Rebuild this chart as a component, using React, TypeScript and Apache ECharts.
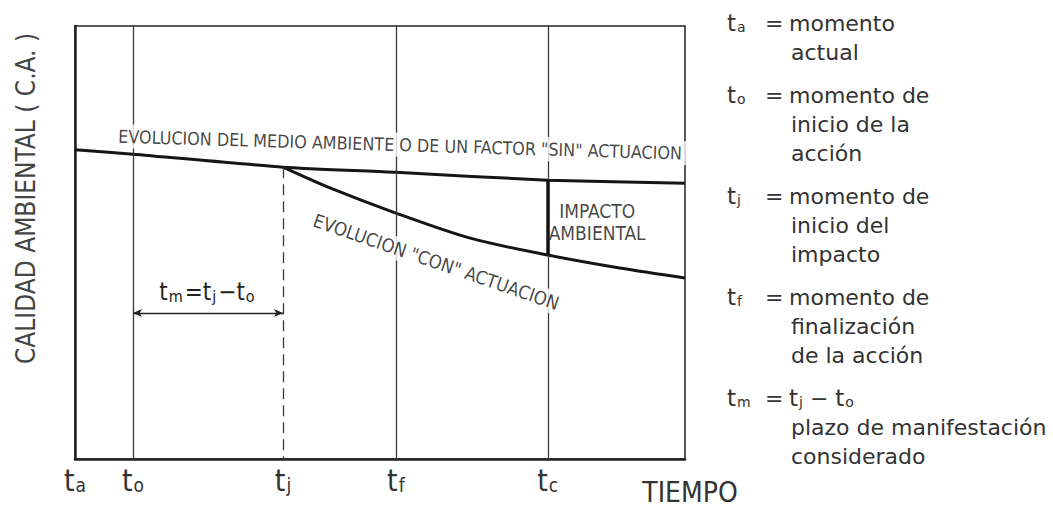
import React, { useEffect, useRef } from "react";
import * as echarts from "echarts";

// Event times on the time axis (0 = t_a, 100 = end of horizon)
const T_A = 0;
const T_O = 9.5;
const T_J = 34.1;
const T_F = 52.6;
const T_C = 77.5;
const T_END = 100;

// Tick positions and their subscripts
const tickValues = [T_A, T_O, T_J, T_F, T_C];
const tickSubs = ["a", "o", "j", "f", "c"];

// Evolution "SIN" actuación (environmental quality, 0-100)
const sinX = [T_A, T_O, T_J, T_F, T_C, T_END];
const sinY = [71.4, 70.4, 67.4, 66.2, 64.4, 63.7];

// Evolution "CON" actuación
const conX = [T_J, 41.8, T_F, 64.8, T_C, 89.3, T_END];
const conY = [67.4, 62.6, 56.8, 51.0, 47.1, 44.1, 41.8];

// Level of the t_m dimension arrow
const tmLevel = 33.7;

// Annotation anchors [x, y] and rotations
const sinNoteText = 'EVOLUCION DEL MEDIO AMBIENTE O DE UN FACTOR "SIN" ACTUACION';
const sinNoteAt = [53.3, 72.6];
const conNoteText = 'EVOLUCION "CON" ACTUACION';
const conNoteAt = [59.2, 45.5];
const impactText = "IMPACTO\nAMBIENTAL";
const impactAt = [85.6, 54.8];

// Legend (right-hand notes)
const legendSyms = ["a", "o", "j", "f", "m"];
const legendLines = [
  ["momento", "actual"],
  ["momento de", "inicio de la", "acción"],
  ["momento de", "inicio del", "impacto"],
  ["momento de", "finalización", "de la acción"],
  ["{t|t}{s|j}{n| − }{t|t}{s|o}", "plazo de manifestación", "considerado"],
];

const NARROW = "'Liberation Sans Narrow', 'DejaVu Sans Condensed', 'Roboto Condensed', sans-serif";
const LEG_FONT = "'DejaVu Sans', sans-serif";
const INK = "#151515";

export default function App() {
  const ref = useRef<HTMLDivElement>(null);

  useEffect(() => {
    if (!ref.current) return;
    const chart = echarts.init(ref.current, undefined, { renderer: "svg" });

    const sinAt = (x: number) => sinY[sinX.indexOf(x)];
    const conAt = (x: number) => conY[conX.indexOf(x)];

    const guide = (x: number) => [
      { coord: [x, 0] },
      { coord: [x, 100] },
    ];

    // legend graphics
    const legendRich = {
      t: { fontSize: 23, fontFamily: LEG_FONT, fill: "#333", verticalAlign: "bottom" },
      s: { fontSize: 14, fontFamily: LEG_FONT, fill: "#333", verticalAlign: "bottom", padding: [0, 0, 1, 1] },
      n: { fontSize: 22, fontFamily: LEG_FONT, fill: "#333", verticalAlign: "bottom" },
    };
    const legendEls: any[] = [];
    let y = 23;
    legendSyms.forEach((sym, i) => {
      legendEls.push({
        type: "text",
        x: 727,
        y,
        style: {
          text: `{t|t}{s|${sym}}`,
          rich: legendRich,
          verticalAlign: "middle",
          fill: "#333",
        },
      });
      legendEls.push({
        type: "text",
        x: 765,
        y,
        style: { text: "=", font: `22px ${LEG_FONT}`, fill: "#333", verticalAlign: "middle" },
      });
      legendLines[i].forEach((ln, j) => {
        const txt = ln.includes("{") ? ln : `{n|${ln}}`;
        legendEls.push({
          type: "text",
          x: j === 0 ? 789 : 791,
          y,
          style: { text: txt, rich: legendRich, verticalAlign: "middle", fill: "#333" },
        });
        y += 29;
      });
      y += 14;
    });

    const noteLabel = (text: string, rotate: number, fontSize: number, extra: any = {}) => ({
      show: true,
      position: "inside",
      formatter: text,
      rotate,
      fontSize,
      fontFamily: NARROW,
      color: INK,
      ...extra,
    });

    chart.setOption({
      animation: false,
      backgroundColor: "#ffffff",
      grid: {
        left: 75,
        top: 26,
        right: 368,
        bottom: 50,
        show: true,
        borderColor: "#222",
        borderWidth: 1.5,
      },
      xAxis: {
        type: "value",
        min: T_A,
        max: T_END,
        name: "TIEMPO",
        nameLocation: "end",
        nameGap: 5,
        nameTextStyle: {
          fontFamily: NARROW,
          fontSize: 28,
          color: "#333",
          align: "center",
          verticalAlign: "top",
          padding: [19, 0, 0, 0],
        },
        axisLine: { show: true, lineStyle: { color: "#222", width: 2.5 } },
        axisTick: { show: false },
        splitLine: { show: false },
        axisLabel: {
          customValues: tickValues,
          margin: 6,
          formatter: (v: number) => {
            const i = tickValues.indexOf(v);
            return i < 0 ? "" : `{t|t}{s|${tickSubs[i]}}`;
          },
          rich: {
            t: { fontSize: 30, fontFamily: NARROW, color: "#333", verticalAlign: "bottom" },
            s: { fontSize: 19, fontFamily: NARROW, color: "#333", verticalAlign: "bottom", padding: [0, 0, 1, 1] },
          },
        },
      },
      yAxis: {
        type: "value",
        min: 0,
        max: 100,
        name: "CALIDAD AMBIENTAL ( C.A. )",
        nameLocation: "middle",
        nameRotate: 90,
        nameGap: 36,
        nameTextStyle: {
          fontFamily: NARROW,
          fontSize: 26,
          color: "#444",
          padding: [0, 0, 0, 88],
        },
        axisLine: { show: true, lineStyle: { color: "#222", width: 2.5 } },
        axisTick: { show: false },
        axisLabel: { show: false },
        splitLine: { show: false },
      },
      series: [
        {
          name: "sin",
          type: "line",
          data: sinX.map((x, i) => [x, sinY[i]]),
          smooth: 0.2,
          showSymbol: false,
          symbol: "none",
          lineStyle: { color: INK, width: 3 },
          z: 3,
          markLine: {
            silent: true,
            symbol: "none",
            animation: false,
            label: { show: false },
            lineStyle: { color: "#3a3a3a", width: 1.3, type: "solid" },
            data: [
              guide(T_O),
              guide(T_F),
              guide(T_C),
              [
                { coord: [T_J, sinAt(T_J)], lineStyle: { type: [11, 6], width: 1.3, color: "#3a3a3a" } },
                { coord: [T_J, 0] },
              ],
              [
                { coord: [T_C, sinAt(T_C)], lineStyle: { width: 3.5, color: INK, type: "solid" } },
                { coord: [T_C, conAt(T_C)] },
              ],
              [
                {
                  coord: [T_O, tmLevel],
                  symbol: "arrow",
                  symbolSize: [6, 9],
                  lineStyle: { width: 1.3, color: "#222", type: "solid" },
                  label: {
                    show: true,
                    position: "middle",
                    distance: 9,
                    formatter: "{t|t}{s|m}{t|=t}{s|j}{t|−t}{s|o}",
                    rich: {
                      t: { fontSize: 24, fontFamily: NARROW, color: "#222", verticalAlign: "bottom" },
                      s: { fontSize: 16, fontFamily: NARROW, color: "#222", verticalAlign: "bottom", padding: [0, 2, 0, 1] },
                    },
                  },
                },
                { coord: [T_J, tmLevel], symbol: "arrow", symbolSize: [6, 9] },
              ],
            ],
          },
        },
        {
          name: "con",
          type: "line",
          data: conX.map((x, i) => [x, conY[i]]),
          smooth: 0.3,
          showSymbol: false,
          symbol: "none",
          lineStyle: { color: INK, width: 3 },
          z: 3,
        },
        {
          name: "notes",
          type: "scatter",
          symbolSize: 0,
          silent: true,
          z: 10,
          data: [
            {
              value: sinNoteAt,
              label: noteLabel(sinNoteText, -1.7, 17.8, { backgroundColor: "#fff", padding: [3, 4, 3, 4] }),
            },
            {
              value: conNoteAt,
              label: noteLabel(conNoteText, -19, 18.5, { backgroundColor: "#fff", padding: [2, 4, 2, 4] }),
            },
            {
              value: impactAt,
              label: noteLabel(impactText, 0, 19, { align: "center", lineHeight: 22 }),
            },
          ],
        },
      ],
      graphic: legendEls,
    });

    return () => chart.dispose();
  }, []);

  return (
    <div
      ref={ref}
      style={{ position: "fixed", left: 0, top: 0, width: 1053, height: 509, background: "#fff" }}
    />
  );
}
